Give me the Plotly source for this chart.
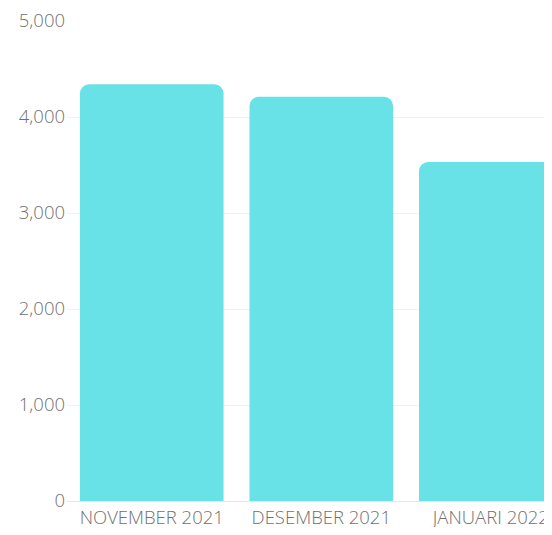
import plotly.graph_objects as go

categories = ["NOVEMBER 2021", "DESEMBER 2021", "JANUARI 2022"]
values = [4340, 4210, 3530]
y_ticks = [0, 1000, 2000, 3000, 4000, 5000]
y_tick_labels = ["0", "1,000", "2,000", "3,000", "4,000", "5,000"]

label_font = dict(family="Open Sans", size=18.5, color="#707070", weight=300)

fig = go.Figure(
    go.Bar(
        x=categories,
        y=values,
        marker=dict(color="#69E2E7", line=dict(width=0)),
        hoverinfo="x+y",
    )
)

fig.update_layout(
    width=544,
    height=519,
    margin=dict(l=59, r=0, t=13, b=26, autoexpand=False),
    paper_bgcolor="white",
    plot_bgcolor="white",
    bargap=0.153,
    barcornerradius=9,
    showlegend=False,
    font=label_font,
    xaxis=dict(
        type="category",
        range=[-0.5, 2.361],
        automargin=False,
        showgrid=False,
        showline=True,
        linecolor="#e6e6e6",
        linewidth=1,
        ticks="",
        tickfont=label_font,
        ticklabelstandoff=0,
        ticklabeloverflow="allow",
    ),
    yaxis=dict(
        range=[0, 5000],
        automargin=False,
        tickvals=y_ticks,
        ticktext=y_tick_labels,
        showgrid=True,
        gridcolor="#f1f1f1",
        gridwidth=1,
        zeroline=False,
        showline=False,
        ticks="",
        ticklabelstandoff=1,
        tickfont=label_font,
        ticklabeloverflow="allow",
    ),
)

fig.write_html("out.html")
